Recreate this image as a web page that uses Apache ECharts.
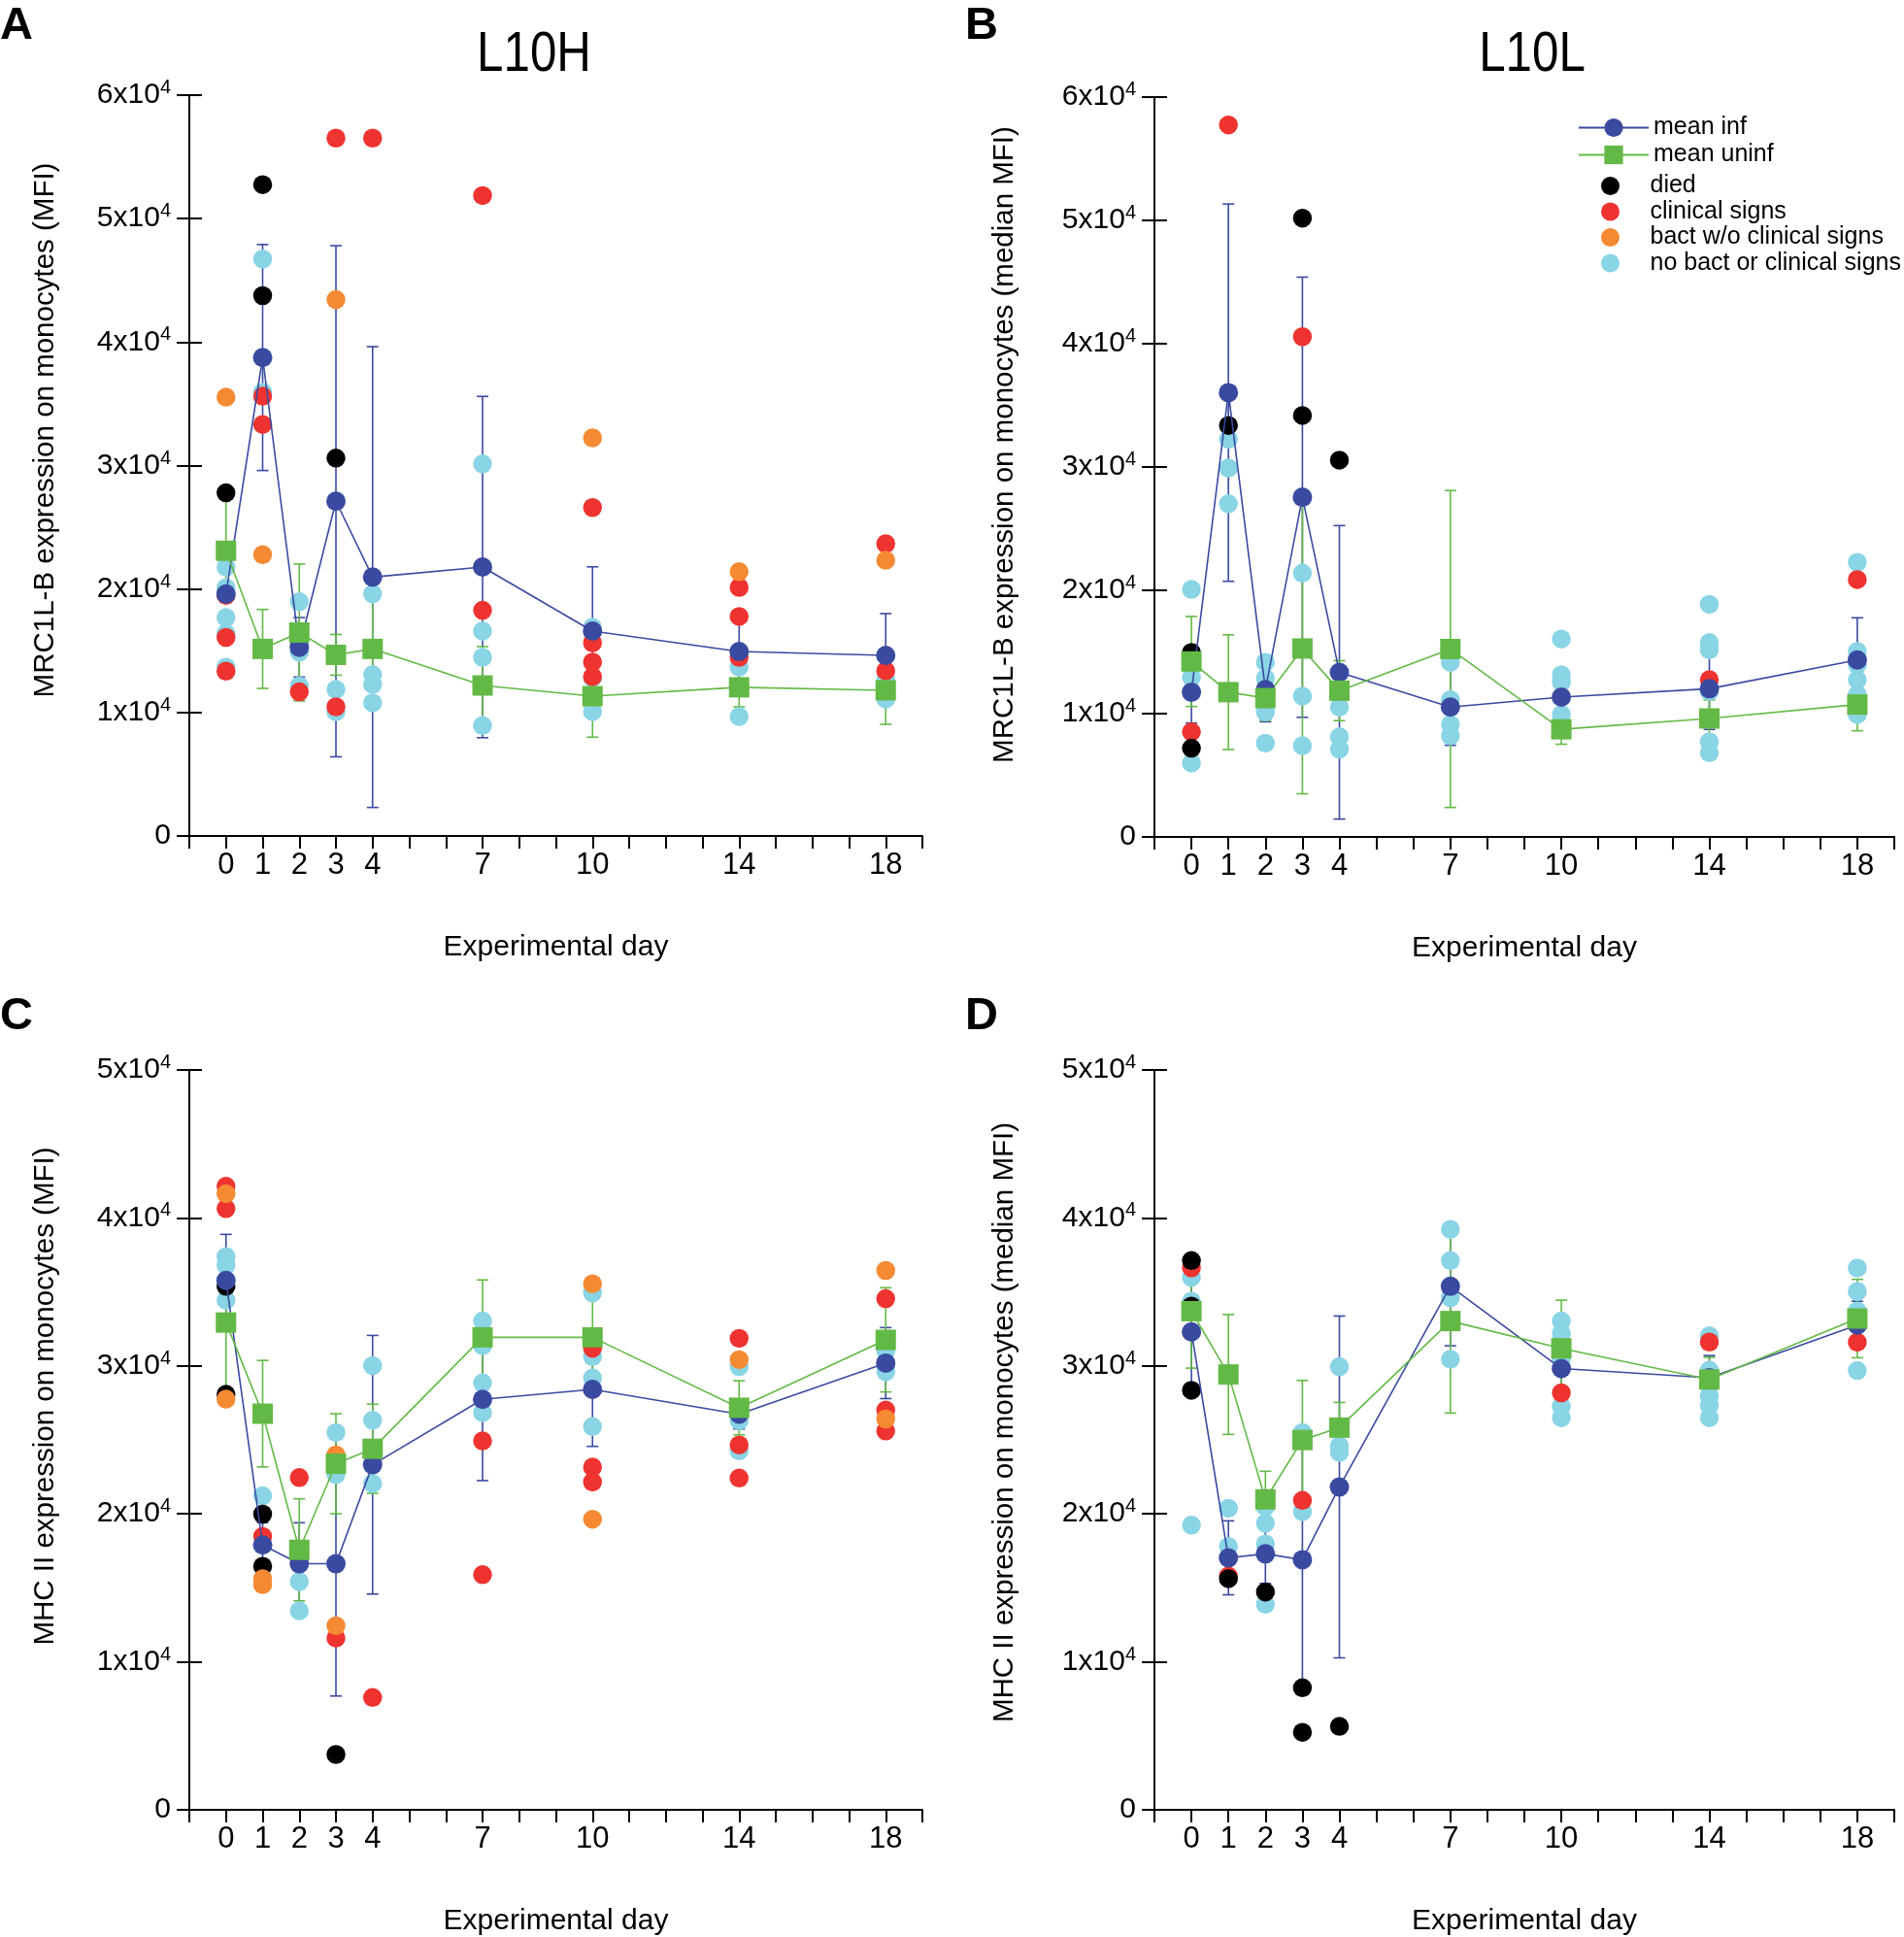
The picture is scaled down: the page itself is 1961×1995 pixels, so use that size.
<!DOCTYPE html>
<html>
<head>
<meta charset="utf-8">
<script src="https://cdn.jsdelivr.net/npm/echarts@6/dist/echarts.min.js"></script>
<style>
  html, body { margin: 0; padding: 0; background: #fff; }
  #chart { width: 1961px; height: 1995px; }
</style>
</head>
<body>
<div id="chart"></div>
<script>
// sampling days and which of them get a tick label
const days = [0, 1, 2, 3, 4, 7, 10, 14, 18];
const labelDays = [0, 1, 2, 3, 4, 7, 10, 14, 18];

// ---- A: L10H, MRC1L-B (MFI)
const meanInfA = [19600, 38750, 15280, 27110, 20970, 21780, 16590, 14940, 14630];
const sdInfA = [null, 9150, 2410, 20700, 18660, 13820, 5210, 2860, 3380];
const meanUninfA = [23100, 15150, 16480, 14670, 15150, 12190, 11320, 12040, 11800];
const sdUninfA = [4200, 3200, 5540, 1650, 4400, 3150, 3320, 1580, 2760];
const diedA = [[0, 27790], [1, 52750], [1, 43760], [3, 30600]];
const clinA = [[0, 19490], [0, 16080], [0, 13350], [1, 35620], [1, 33330], [2, 11670], [3, 56520], [3, 10460],
  [4, 56520], [7, 51870], [7, 18280], [10, 26600], [10, 15650], [10, 14080], [10, 12900],
  [14, 20130], [14, 17780], [14, 14470], [18, 23670], [18, 13370]];
const bactA = [[0, 35540], [1, 22780], [3, 43440], [10, 32240], [14, 21400], [18, 22330]];
const noBactA = [[0, 21780], [0, 20100], [0, 17690], [0, 16400], [0, 13670], [1, 46730], [1, 35940],
  [2, 18970], [2, 14880], [2, 12150], [3, 11870], [3, 10060], [4, 19610], [4, 13070], [4, 12270], [4, 10780],
  [7, 30130], [7, 16600], [7, 14470], [7, 8940], [10, 16900], [10, 12800], [10, 10070],
  [14, 13680], [14, 9670], [18, 12660], [18, 11090]];

// ---- B: L10L, MRC1L-B (median MFI)
const meanInfB = [11740, 36030, 11940, 27550, 13350, 10530, 11340, 12020, 14350];
const sdInfB = [2500, 15300, 2600, 17850, 11900, 3100, 1500, 3300, 3420];
const meanUninfB = [14230, 11740, 11260, 15280, 11860, 15240, 8730, 9610, 10740];
const sdUninfB = [3650, 4650, 1800, 11780, 2430, 12850, 1210, 1500, 2130];
const diedB = [[0, 14960], [0, 7200], [1, 33370], [2, 11900], [3, 50180], [3, 34180], [4, 30560]];
const clinB = [[0, 8520], [1, 57740], [3, 40570], [14, 12750], [18, 20870]];
const bactB = [];
const noBactB = [[0, 20070], [0, 12950], [0, 5990], [1, 32250], [1, 29920], [1, 27020],
  [2, 14160], [2, 12870], [2, 10130], [2, 7600], [3, 21390], [3, 11420], [3, 7400],
  [4, 10530], [4, 8120], [4, 7120], [7, 14160], [7, 11130], [7, 9130], [7, 8200],
  [10, 16050], [10, 13150], [10, 12540], [10, 9930], [14, 18860], [14, 15760], [14, 15170], [14, 11800], [14, 7720], [14, 6830],
  [18, 22270], [18, 15040], [18, 13970], [18, 12750], [18, 11540], [18, 9930]];

// ---- C: L10H, MHC II (MFI)
const meanInfC = [35780, 17900, 16630, 16630, 23320, 27740, 28410, 26740, 30190];
const sdInfC = [3110, 1500, 2770, 8940, 8740, 5490, 3850, 1000, 2400];
const meanUninfC = [32930, 26770, 17570, 23390, 24400, 31930, 31930, 27170, 31760];
const sdUninfC = [4900, 3600, 3450, 3380, 3010, 3880, 3100, 1830, 3520];
const diedC = [[0, 35380], [0, 28080], [1, 19980], [1, 16460], [3, 3740]];
const clinC = [[0, 42140], [0, 40630], [1, 18470], [2, 22450], [3, 11610], [4, 7590], [7, 24930], [7, 15890],
  [10, 31190], [10, 23160], [10, 22150], [14, 31860], [14, 24660], [14, 22420], [18, 34540], [18, 27010], [18, 25600]];
const bactC = [[0, 41640], [0, 27750], [1, 15620], [1, 15220], [3, 23990], [3, 12440], [10, 35550], [10, 19640],
  [14, 30420], [18, 36450], [18, 26410]];
const noBactC = [[0, 37380], [0, 36810], [0, 34440], [1, 21220], [2, 15420], [2, 13450], [3, 25500], [3, 22650],
  [4, 30020], [4, 26330], [4, 22050], [7, 33030], [7, 31360], [7, 28850], [7, 26840],
  [10, 34940], [10, 30620], [10, 29180], [10, 25900], [14, 29950], [14, 26300], [14, 24260], [18, 31000], [18, 29610]];

// ---- D: L10L, MHC II (median MFI)
const meanInfD = [32300, 17030, 17300, 16900, 21820, 35380, 29820, 29200, 32760];
const sdInfD = [3500, 2500, 2000, 8500, 11550, 4020, 1500, 1500, 1610];
const meanUninfD = [33700, 29420, 20980, 24990, 25830, 33030, 31190, 29080, 33200];
const sdUninfD = [3850, 4050, 1900, 4030, 1700, 6220, 3250, 1500, 2650];
const diedD = [[0, 37120], [0, 34040], [0, 28350], [1, 15620], [2, 14720], [3, 8250], [3, 5240], [4, 5640]];
const clinD = [[0, 36630], [1, 15790], [3, 20910], [10, 28180], [14, 31610], [18, 31600]];
const bactD = [];
const noBactD = [[0, 35980], [0, 34370], [0, 19240], [1, 20380], [1, 17800], [2, 20480], [2, 19370], [2, 17970], [2, 13890],
  [3, 25500], [3, 20150], [4, 29950], [4, 24590], [4, 24160], [7, 39230], [7, 37120], [7, 34610], [7, 30450],
  [10, 33030], [10, 32190], [10, 30500], [10, 27270], [10, 26500], [14, 32030], [14, 29700], [14, 28010], [14, 27350], [14, 26500],
  [18, 36620], [18, 35040], [18, 33710], [18, 29690]];

const BLUE = '#3a4aa0';
const GREEN = '#63b946';
const RED = '#ee3330';
const ORANGE = '#f58a33';
const LBLUE = '#89d4e5';
const FONT = "'Liberation Sans Narrow', 'Arial Narrow', sans-serif";
const FONT_REG = "'Liberation Sans', Arial, sans-serif";

const panels = [
  { grid: { left: 195, top: 98, width: 755, height: 763 }, ymax: 60000,
    yName: 'MRC1L-B expression on monocytes (MFI)', yNamePos: [47, 443],
    meanInf: meanInfA, sdInf: sdInfA, meanUninf: meanUninfA, sdUninf: sdUninfA,
    died: diedA, clin: clinA, bact: bactA, noBact: noBactA },
  { grid: { left: 1189, top: 100, width: 762, height: 762 }, ymax: 60000,
    yName: 'MRC1L-B expression on monocytes (median MFI)', yNamePos: [1035, 458],
    meanInf: meanInfB, sdInf: sdInfB, meanUninf: meanUninfB, sdUninf: sdUninfB,
    died: diedB, clin: clinB, bact: bactB, noBact: noBactB },
  { grid: { left: 195, top: 1102, width: 755, height: 762 }, ymax: 50000,
    yName: 'MHC II expression on monocytes (MFI)', yNamePos: [47, 1438],
    meanInf: meanInfC, sdInf: sdInfC, meanUninf: meanUninfC, sdUninf: sdUninfC,
    died: diedC, clin: clinC, bact: bactC, noBact: noBactC },
  { grid: { left: 1189, top: 1102, width: 762, height: 762 }, ymax: 50000,
    yName: 'MHC II expression on monocytes (median MFI)', yNamePos: [1035, 1465],
    meanInf: meanInfD, sdInf: sdInfD, meanUninf: meanUninfD, sdUninf: sdUninfD,
    died: diedD, clin: clinD, bact: bactD, noBact: noBactD }
];

function pairs(means) {
  return days.map((d, i) => [d, means[i]]);
}
function errs(means, sds) {
  return days.map((d, i) => sds[i] == null ? null : [d, means[i] - sds[i], means[i] + sds[i]])
    .filter(Boolean);
}
function errRender(color) {
  return function (params, api) {
    const x = api.value(0);
    const lo = api.coord([x, api.value(1)]);
    const hi = api.coord([x, api.value(2)]);
    const hw = 6;
    const st = { stroke: color, lineWidth: 1.6 };
    return {
      type: 'group',
      children: [
        { type: 'line', shape: { x1: lo[0], y1: lo[1], x2: hi[0], y2: hi[1] }, style: st },
        { type: 'line', shape: { x1: hi[0] - hw, y1: hi[1], x2: hi[0] + hw, y2: hi[1] }, style: st },
        { type: 'line', shape: { x1: lo[0] - hw, y1: lo[1], x2: lo[0] + hw, y2: lo[1] }, style: st }
      ]
    };
  };
}

const axisLineStyle = { color: '#000', width: 2 };
const grids = [], xAxes = [], yAxes = [], series = [], graphics = [];

panels.forEach((p, i) => {
  grids.push(Object.assign({ containLabel: false }, p.grid));
  xAxes.push({
    gridIndex: i, type: 'value', min: -1, max: 19, interval: 1,
    name: 'Experimental day', nameLocation: 'middle', nameGap: 100,
    nameTextStyle: { fontSize: 30, fontFamily: FONT, color: '#000' },
    axisLine: { show: true, onZero: false, lineStyle: axisLineStyle },
    axisTick: { show: true, length: 13, lineStyle: axisLineStyle },
    axisLabel: {
      show: true, margin: 15, fontSize: 31, fontFamily: FONT, color: '#000',
      formatter: v => labelDays.includes(v) ? String(v) : ''
    },
    splitLine: { show: false }
  });
  yAxes.push({
    gridIndex: i, type: 'value', min: 0, max: p.ymax, interval: 10000, position: 'left',
    axisLine: { show: true, onZero: false, lineStyle: axisLineStyle },
    axisTick: { show: true, length: 13, lineStyle: axisLineStyle },
    axisLabel: {
      show: true, margin: 19, fontSize: 30, fontFamily: FONT, color: '#000',
      formatter: v => v === 0 ? '0' : (v / 10000) + 'x10{s|4}',
      rich: { s: { fontSize: 20, fontFamily: FONT, color: '#000', padding: [0, 0, 15, 0] } }
    },
    splitLine: { show: false }
  });
  // second axis only for the inward half of the crossing ticks
  yAxes.push({
    gridIndex: i, type: 'value', min: 0, max: p.ymax, interval: 10000, position: 'left',
    axisLine: { show: false, onZero: false },
    axisTick: { show: true, inside: true, length: 13, lineStyle: axisLineStyle },
    axisLabel: { show: false },
    splitLine: { show: false }
  });

  const base = { xAxisIndex: i, yAxisIndex: 2 * i, animation: false, emphasis: { disabled: true } };
  series.push(Object.assign({ type: 'custom', name: 'err inf', renderItem: errRender(BLUE),
    data: errs(p.meanInf, p.sdInf), encode: { x: 0, y: [1, 2] } }, base));
  series.push(Object.assign({ type: 'custom', name: 'err uninf', renderItem: errRender(GREEN),
    data: errs(p.meanUninf, p.sdUninf), encode: { x: 0, y: [1, 2] } }, base));
  series.push(Object.assign({ type: 'scatter', name: 'no bact or clinical signs', data: p.noBact,
    symbolSize: 19.5, itemStyle: { color: LBLUE, opacity: 1 } }, base));
  series.push(Object.assign({ type: 'scatter', name: 'clinical signs', data: p.clin,
    symbolSize: 19.5, itemStyle: { color: RED, opacity: 1 } }, base));
  series.push(Object.assign({ type: 'scatter', name: 'died', data: p.died,
    symbolSize: 19.5, itemStyle: { color: '#000', opacity: 1 } }, base));
  series.push(Object.assign({ type: 'scatter', name: 'bact w/o clinical signs', data: p.bact,
    symbolSize: 19.5, itemStyle: { color: ORANGE, opacity: 1 } }, base));
  series.push(Object.assign({ type: 'line', name: 'mean inf', data: pairs(p.meanInf),
    symbol: 'circle', symbolSize: 20, lineStyle: { color: BLUE, width: 1.6 },
    itemStyle: { color: BLUE } }, base));
  series.push(Object.assign({ type: 'line', name: 'mean uninf', data: pairs(p.meanUninf),
    symbol: 'rect', symbolSize: 21, lineStyle: { color: GREEN, width: 1.6 },
    itemStyle: { color: GREEN } }, base));

  graphics.push({
    type: 'text', x: p.yNamePos[0], y: p.yNamePos[1], rotation: Math.PI / 2,
    style: { text: p.yName, fontSize: 29.5, fontFamily: FONT, fill: '#000', align: 'center', verticalAlign: 'middle' }
  });
});

// titles and panel letters
[['L10H', 550], ['L10L', 1578]].forEach(([t, x]) => {
  graphics.push({ type: 'text', x: x, y: 57, scaleX: 0.85,
    style: { text: t, fontSize: 58, fontFamily: FONT, fill: '#000', align: 'center', verticalAlign: 'middle' } });
});
[['A', 0, 27], ['B', 994, 27], ['C', 0, 1047], ['D', 994, 1047]].forEach(([t, x, y]) => {
  graphics.push({ type: 'text', x: x, y: y,
    style: { text: t, fontSize: 47, fontWeight: 'bold', fontFamily: FONT_REG, fill: '#000', align: 'left', verticalAlign: 'middle' } });
});

const chart = echarts.init(document.getElementById('chart'));
chart.setOption({
  animation: false,
  backgroundColor: '#fff',
  grid: grids,
  xAxis: xAxes,
  yAxis: yAxes,
  legend: [
    { data: ['mean inf', 'mean uninf'], orient: 'vertical', left: 1625, top: 119, padding: 0,
      itemWidth: 72, itemHeight: 24, itemGap: 3, selectedMode: false,
      textStyle: { fontSize: 25, fontFamily: FONT_REG, color: '#000' } },
    { data: ['died', 'clinical signs', 'bact w/o clinical signs', 'no bact or clinical signs'],
      orient: 'vertical', left: 1649, top: 179, padding: 0,
      itemWidth: 72, itemHeight: 19, itemGap: 1.5, selectedMode: false,
      textStyle: { fontSize: 25, fontFamily: FONT_REG, color: '#000' } }
  ],
  graphic: graphics,
  series: series
});
</script>
</body>
</html>
